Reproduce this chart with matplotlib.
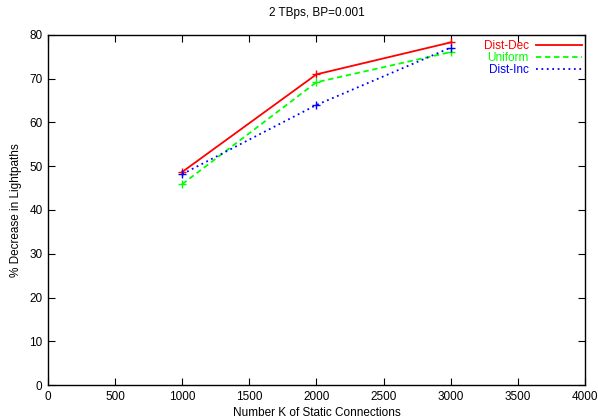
import matplotlib

matplotlib.use("Agg")

from matplotlib import pyplot as plt  # noqa: E402
from matplotlib.lines import Line2D  # noqa: E402

plt.rcParams["font.family"] = ["Liberation Sans", "DejaVu Sans"]

connections = [1000, 2000, 3000]
series_names = ["Dist-Dec", "Uniform", "Dist-Inc"]
dist_dec = [48.7, 71.0, 78.3]
uniform = [45.9, 69.2, 76.1]
dist_inc = [48.2, 64.0, 77.1]

COLORS = ["#ff0000", "#00ff00", "#0000ff"]
STYLES = ["-", (0, (3, 2)), (0, (1, 2))]

figure = plt.figure(figsize=(5.98, 4.2), dpi=100)
axis = figure.add_axes([0.0803, 0.0833, 0.8977, 0.8334])

handles = []
for name, values, color, style in zip(
    series_names, [dist_dec, uniform, dist_inc], COLORS, STYLES
):
    axis.plot(
        connections,
        values,
        color=color,
        linestyle=style,
        linewidth=1.3,
        marker="+",
        markersize=6,
        markeredgewidth=1.0,
    )
    handles.append(Line2D([], [], color=color, linestyle=style, linewidth=1.3, label=name))

axis.set_xlim(0, 4000)
axis.set_ylim(0, 80)
axis.set_xticks(range(0, 4001, 500))
axis.set_yticks(range(0, 81, 10))
axis.tick_params(
    direction="in", top=True, right=True, length=5, width=0.8, labelsize=8.5, pad=4
)
for spine in axis.spines.values():
    spine.set_linewidth(1.0)

axis.set_xlabel("Number K of Static Connections", fontsize=8.5, labelpad=3)
axis.set_ylabel("% Decrease in Lightpaths", fontsize=8.5, labelpad=5)
axis.set_title("2 TBps, BP=0.001", fontsize=8.5, pad=14)

legend = axis.legend(
    handles=handles,
    loc="upper right",
    bbox_to_anchor=(1.0, 0.994),
    frameon=False,
    markerfirst=False,
    handlelength=3.9,
    handletextpad=0.6,
    labelspacing=0.0,
    fontsize=8.5,
    borderaxespad=0.0,
    borderpad=0.25,
    labelcolor="linecolor",
)
for text in legend.get_texts():
    text.set_ha("right")

figure.savefig("out.png", dpi=100)
